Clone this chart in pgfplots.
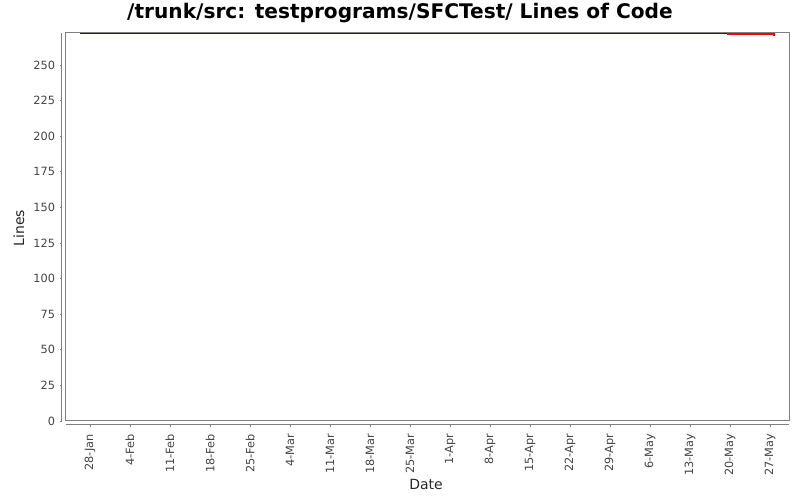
\documentclass[border=0pt]{standalone}
\usepackage{pgfplots}
\pgfplotsset{compat=1.18}
\usepackage{fontspec}
\setmainfont{DejaVu Sans}
\definecolor{axgray}{RGB}{128,128,128}
\definecolor{lblgray}{RGB}{68,68,68}
\definecolor{darkred}{RGB}{110,0,0}
\begin{document}
\begin{tikzpicture}[x=1pt,y=1pt]
\path[use as bounding box] (0,0) rectangle (600,375);
\begin{axis}[
  at={(49.5pt,59.25pt)}, anchor=south west,
  scale only axis, width=542.25pt, height=291pt,
  xmin=-4.2, xmax=122.3, ymin=0, ymax=272.5,
  axis x line*=bottom, axis y line*=left,
  separate axis lines,
  x axis line style={draw=axgray, line width=0.75pt, yshift=-3pt, -},
  y axis line style={draw=axgray, line width=0.75pt, xshift=-3pt, -},
  xtick={0,7,...,119},
  xticklabels={28-Jan,4-Feb,11-Feb,18-Feb,25-Feb,4-Mar,11-Mar,18-Mar,25-Mar,1-Apr,8-Apr,15-Apr,22-Apr,29-Apr,6-May,13-May,20-May,27-May},
  ytick={0,25,...,250},
  tick align=outside,
  major tick length=1.5pt,
  xtick style={draw=axgray, line width=0.6pt, yshift=-3pt},
  ytick style={draw=axgray, line width=0.6pt, xshift=-3pt},
  xticklabel style={rotate=90, anchor=east, font=\fontsize{8.5}{10}\selectfont, text=lblgray, xshift=-6.5pt, inner sep=1.5pt},
  yticklabel style={font=\fontsize{8.5}{10}\selectfont, text=lblgray, xshift=-4.5pt, inner sep=2pt},
  /pgf/number format/assume math mode=true,
  clip=false,
]
\draw[axgray, line width=0.75pt] (rel axis cs:0,0) rectangle (rel axis cs:1,1);
\addplot[darkred, line width=1.2pt] coordinates {(-1.75,272.2) (111.46,272.2)};
\addplot[red, line width=1.5pt] coordinates {(111.46,271.5) (119.68,271.5) (119.68,270.3)};
\end{axis}
\node[font=\bfseries\fontsize{15.1}{18}\selectfont] at (300,365.25) {/trunk/src: testprograms/SFCTest/ Lines of Code};
\node[font=\fontsize{10.5}{12}\selectfont, text=black!85, rotate=90] at (14.25,204) {Lines};
\node[font=\fontsize{10.5}{12}\selectfont, text=black!85] at (319.5,11.5) {Date};
\end{tikzpicture}
\end{document}
